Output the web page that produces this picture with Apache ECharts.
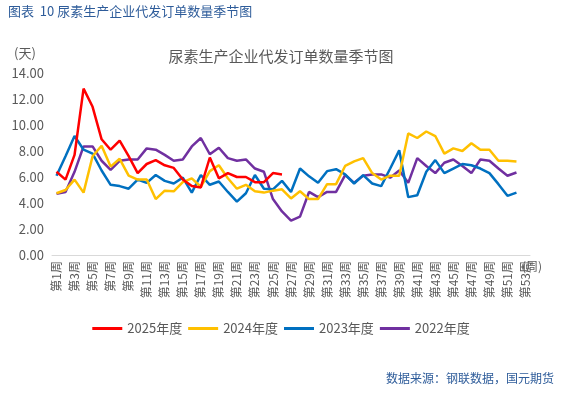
<!DOCTYPE html>
<html>
<head>
<meta charset="utf-8">
<script src="https://cdn.jsdelivr.net/npm/echarts@6/dist/echarts.min.js"></script>
<style>
html,body{margin:0;padding:0;background:#fff;}
#c{width:562px;height:393px;}
</style>
</head>
<body>
<div id="c"></div>
<script>
const weeks = [];
for (let i = 1; i <= 53; i++) weeks.push('第' + i + '周');

const s2025 = [6.4,5.8,7.7,12.8,11.4,8.9,8.1,8.8,7.6,6.3,7.0,7.3,6.9,6.7,5.8,5.3,5.2,7.5,5.9,6.3,6.0,6.0,5.6,5.6,6.3,6.2];
const s2024 = [4.75,5.0,5.8,4.8,7.6,8.4,6.8,7.4,6.1,5.8,5.8,4.3,4.95,4.9,5.6,5.9,5.25,6.45,6.9,5.9,5.1,5.4,4.9,4.8,4.95,5.05,4.35,4.9,4.3,4.3,5.45,5.45,6.85,7.2,7.45,6.3,5.8,6.1,6.1,9.35,9.0,9.5,9.15,7.8,8.2,8.0,8.6,8.1,8.1,7.25,7.25,7.2];
const s2023 = [6.1,7.6,9.15,8.1,7.8,6.5,5.4,5.3,5.1,5.8,5.55,6.15,5.7,5.5,5.95,4.8,6.15,5.4,5.65,4.85,4.1,4.75,6.15,5.1,5.05,5.7,4.85,6.65,6.05,5.55,6.45,6.6,6.2,5.5,6.15,5.5,5.3,6.65,8.05,4.45,4.6,6.4,7.3,6.3,6.65,7.0,6.9,6.65,6.3,5.45,4.55,4.8];
const s2022 = [4.7,4.85,6.4,8.35,8.35,7.25,6.55,7.25,7.35,7.35,8.2,8.1,7.7,7.25,7.35,8.35,9.0,7.75,8.25,7.45,7.25,7.35,6.65,6.4,4.3,3.35,2.65,2.95,4.85,4.45,4.85,4.85,6.15,5.55,6.1,6.2,6.2,5.95,6.5,5.55,7.45,6.85,6.3,7.1,7.35,6.85,6.3,7.35,7.25,6.65,6.1,6.35];

const seriesNames = ['2025年度','2024年度','2023年度','2022年度'];
const seriesData = [s2025, s2024, s2023, s2022];
const colors = ['#FF0000','#FFC000','#0070C0','#7030A0'];

const FONT = '"Microsoft YaHei","Noto Sans CJK SC",sans-serif';
const chart = echarts.init(document.getElementById('c'));
chart.setOption({
  animation: false,
  textStyle: {fontFamily: FONT},
  title: {
    text: '尿素生产企业代发订单数量季节图',
    left: 'center', top: 44,
    textStyle: {fontSize: 15, fontWeight: 'normal', color: '#595959', fontFamily: FONT}
  },
  graphic: [
    {type: 'text', left: 8, top: 5, style: {text: '图表  10 尿素生产企业代发订单数量季节图', fill: '#2E5C9A', font: '13px ' + FONT}},
    {type: 'text', right: 8, top: 372, style: {text: '数据来源：钢联数据，国元期货', fill: '#2E5C9A', font: '12px ' + FONT}},
    {type: 'text', left: 14, top: 47, style: {text: '(天)', fill: '#595959', font: '13px ' + FONT}},
    {type: 'text', left: 522, top: 260, style: {text: '(周)', fill: '#595959', font: '12px ' + FONT}}
  ],
  legend: {
    data: seriesNames,
    bottom: 53,
    left: 'center',
    itemWidth: 30, itemHeight: 3, itemGap: 6,
    icon: 'rect',
    textStyle: {fontSize: 13, color: '#595959', fontFamily: FONT}
  },
  grid: {left: 52, right: 32, top: 73, bottom: 138},
  xAxis: {
    type: 'category',
    data: weeks,
    boundaryGap: true,
    axisLine: {lineStyle: {color: '#D9D9D9', width: 1}},
    axisTick: {show: false},
    axisLabel: {interval: 1, rotate: 90, fontSize: 12, color: '#595959', margin: 6, fontFamily: FONT}
  },
  yAxis: {
    type: 'value',
    min: 0, max: 14, interval: 2,
    splitLine: {show: false},
    axisLine: {show: false},
    axisTick: {show: false},
    axisLabel: {formatter: v => v.toFixed(2), fontSize: 13, color: '#595959', margin: 8, fontFamily: FONT}
  },
  series: seriesNames.map((n, i) => ({
    name: n,
    type: 'line',
    data: seriesData[i],
    symbol: 'none',
    lineStyle: {width: 2.5, color: colors[i]},
    itemStyle: {color: colors[i]},
    z: 10 - i
  }))
});
</script>
</body>
</html>
